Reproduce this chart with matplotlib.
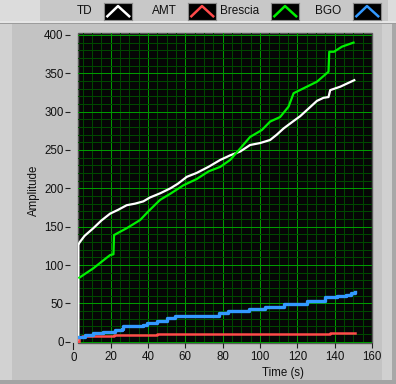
import matplotlib.pyplot as plt
from matplotlib.patches import Rectangle
from matplotlib.ticker import MultipleLocator
from matplotlib.transforms import blended_transform_factory

plt.rcParams['font.family'] = ['Liberation Sans', 'DejaVu Sans']

W, H = 396, 384

# values (time in s, amplitude)
td_t = [2.7, 2.7, 3.2, 6, 10.7, 15, 19.7, 24, 28.6, 33, 37.5, 41, 46.5, 52, 56, 60.8,
        66, 72.4, 78.7, 84, 89.4, 94.7, 100, 105.4, 109, 112.6, 117, 121.5, 126,
        130.5, 134, 136.7, 137.6, 143, 150.5]
td_a = [0, 126, 129, 138, 148, 158, 167, 172, 178, 180, 183, 188, 193.5, 200, 206, 215,
        220, 228, 237, 243, 248, 256.5, 259, 263, 270, 278, 286, 294, 304,
        314, 318, 319, 328, 332.5, 341]

amt_t = [2.7, 3.2, 4.5, 22, 45, 137.3, 151]
amt_a = [0, 6.5, 8, 9, 10, 11.7, 11.7]

br_t = [3.2, 10.7, 15, 19.7, 21.5, 21.8, 24, 28.6, 35.8, 40.2, 46.5, 52, 59, 66, 72.4,
        78.7, 84, 89.4, 94.7, 101, 105.4, 110.8, 115.3, 118, 125.1, 130.5, 136.7,
        137.1, 139.6, 143.9, 150.1]
br_a = [83.5, 95.7, 104, 113, 114, 139, 142, 148, 158.7, 170, 185, 193, 204, 212, 222,
        228, 237, 252, 267, 276, 287, 293, 306.5, 324, 332.5, 339, 352,
        378, 378, 384.7, 390]

bgo_t = [3.2, 6.3, 10.7, 16.1, 22.4, 26, 26.8, 37.5, 39.4, 45, 50, 54.5, 76, 77.8,
         83.1, 94, 102.8, 112.6, 125.1, 135, 141.3, 146, 149, 151]
bgo_a = [6.5, 8.7, 11.7, 13, 15, 17, 20.5, 22, 24.8, 27, 30.5, 33.5, 33.5, 37,
         40, 42.7, 45.6, 48.8, 53, 58, 60, 61.5, 63.5, 64.5]

names = ['TD', 'AMT', 'Brescia', 'BGO']
colors = ['#ffffff', '#ff4a4a', '#00f000', '#3399ff']
x_ticks = [0, 20, 40, 60, 80, 100, 120, 140, 160]
y_ticks = [0, 50, 100, 150, 200, 250, 300, 350, 400]


def px_box(x0, y0, x1, y1):
    # pixel box (origin top left) -> figure fraction rect
    return [x0 / W, 1 - y1 / H, (x1 - x0) / W, (y1 - y0) / H]


def panel(fig, x0, y0, x1, y1, color):
    fig.add_artist(Rectangle(px_box(x0, y0, x1, y1)[:2], (x1 - x0) / W, (y1 - y0) / H,
                             transform=fig.transFigure, facecolor=color,
                             edgecolor='none', zorder=0))


fig = plt.figure(figsize=(W / 100, H / 100), dpi=100)
fig.patch.set_facecolor('#c3c3c3')

# frame pieces
panel(fig, 0, 0, 40, 22, '#dcdcdc')
panel(fig, 40, 0, 388, 22, '#c8c8c8')
panel(fig, 388, 0, 396, 22, '#dcdcdc')
panel(fig, 0, 21, 396, 23, '#e6e6e6')
panel(fig, 0, 23, 396, 24, '#9c9c9c')
panel(fig, 0, 24, 12, 384, '#d2d2d2')
panel(fig, 382, 24, 396, 384, '#d0d0d0')
panel(fig, 392, 24, 396, 384, '#a8a8a8')
panel(fig, 0, 380, 396, 384, '#a4a4a4')

# legend
text_right = [92, 177, 259, 341]
icon_left = [104, 188, 271, 353]
for name, col, tr, il in zip(names, colors, text_right, icon_left):
    fig.text(tr / W, 1 - 11.5 / H, name, ha='right', va='center', fontsize=8.5,
             color='#101010')
    iax = fig.add_axes(px_box(il, 3, il + 28, 20))
    iax.set_facecolor('black')
    iax.set_xticks([])
    iax.set_yticks([])
    for s in iax.spines.values():
        s.set_color('#8a8a8a')
        s.set_linewidth(0.8)
    iax.set_xlim(0, 1)
    iax.set_ylim(0, 1)
    iax.plot([0.12, 0.5, 0.9], [0.22, 0.82, 0.22], color=col, lw=1.8)

# plot area
ax = fig.add_axes(px_box(78, 33, 372, 342.5))
ax.set_facecolor('#060606')
ax.patch.set_edgecolor('#5a5a5a')
ax.patch.set_linewidth(1)
ax.set_xlim(2.5, 160)
ax.set_ylim(-1, 402.5)

ax.plot(td_t, td_a, color=colors[0], lw=1.6)
ax.plot(amt_t, amt_a, color=colors[1], lw=1.8, drawstyle='steps-post')
ax.plot(br_t, br_a, color=colors[2], lw=1.6)
ax.plot(bgo_t, bgo_a, color=colors[3], lw=2.4, drawstyle='steps-post')

ax.set_xticks(x_ticks[1:])
ax.set_yticks(y_ticks)
ax.xaxis.set_minor_locator(MultipleLocator(5))
ax.yaxis.set_minor_locator(MultipleLocator(10))
ax.set_axisbelow(True)
ax.grid(which='minor', color='#004800', lw=0.75)
ax.grid(which='major', color='#009a00', lw=0.75)
for s in ax.spines.values():
    s.set_visible(False)
ax.spines['left'].set_position(('outward', 5.5))
ax.tick_params(which='minor', length=0)
ax.tick_params(which='major', direction='out', length=3.6, width=0.8,
               color='#202020', labelsize=8.3, labelcolor='#101010')
ax.tick_params(axis='y', pad=1.2)
ax.tick_params(axis='x', pad=2.5)

# the 0 tick on x sits left of the plotted range
trans = blended_transform_factory(ax.transData, ax.transAxes)
ax.plot([0, 0], [-0.002, -0.02], color='#202020', lw=0.8, transform=trans, clip_on=False)
ax.text(0, -0.031, '0', transform=trans, ha='center', va='top', fontsize=8.3,
        color='#101010')

ax.set_xlabel('Time (s)', fontsize=8.3, color='#101010', va='top')
ax.xaxis.set_label_coords(0.696, -0.078)
ax.set_ylabel('Amplitude', fontsize=8.3, color='#101010')
ax.yaxis.set_label_coords(-0.128, 0.493)

fig.savefig('out.png', dpi=100, facecolor=fig.get_facecolor())
